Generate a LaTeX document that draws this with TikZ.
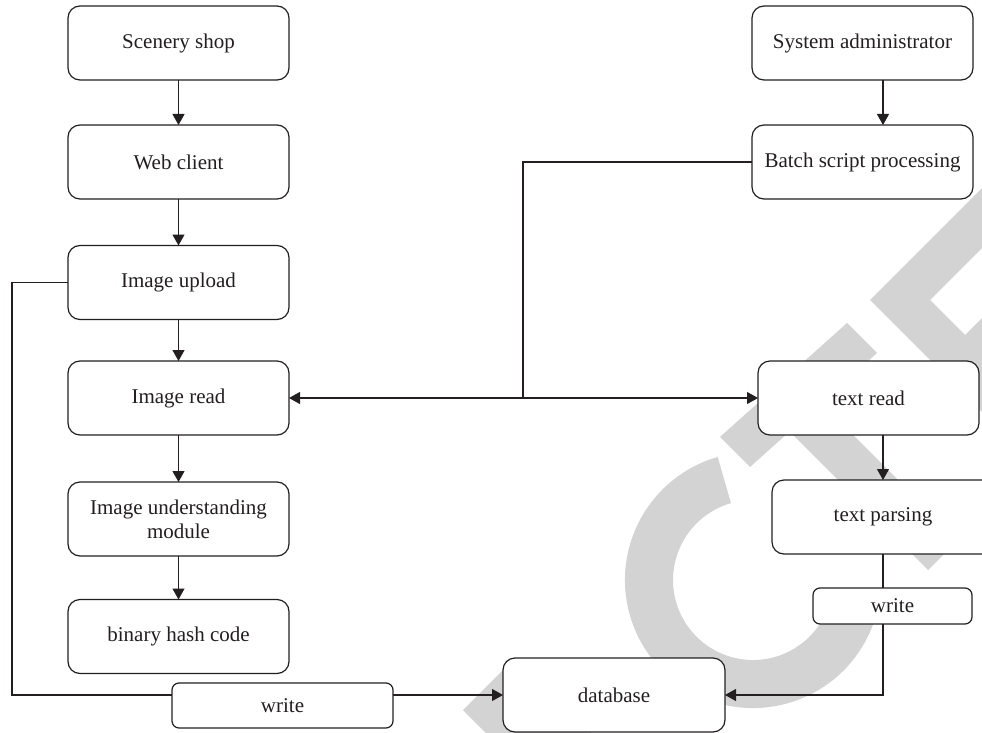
\documentclass[tikz,border=0pt]{standalone}
\usepackage{fontspec}
\setmainfont{Liberation Serif}
\usetikzlibrary{arrows.meta}
\definecolor{wm}{RGB}{211,211,211}
\definecolor{ink}{RGB}{35,31,32}
\begin{document}
\begin{tikzpicture}[x=1pt,y=-1pt,
  box/.style={draw=ink, line width=1.2pt, rounded corners=12pt, fill=white,
    minimum width=221pt, minimum height=74pt, inner sep=0pt, outer sep=0pt,
    align=center, font=\fontsize{21}{24}\selectfont, text=ink},
  smallbox/.style={box, rounded corners=7pt},
  conn/.style={draw=ink, line width=1.1pt},
  arr/.style={conn, -{Triangle[length=11pt,width=12pt]}}]
\clip (0,0) rectangle (982,733);
\fill[white] (0,0) rectangle (982,733);
% watermark
\fill[wm] (717.7,457) arc[start angle=-106, end angle=-350, radius=128]
  -- (831.8,593.9) arc[start angle=-350, end angle=-106, radius=80] -- cycle;
\fill[wm] (720,437) -- (847,323) -- (877,353) -- (750,467) -- cycle;
\fill[wm] (779,421) -- (809,391) -- (958,540) -- (928,570) -- cycle;
\fill[wm] (1070,100) -- (870,300) -- (1100,530) -- (1200,430) -- (1100,200)
  -- (965,335) -- (930,300) -- (1130,100) -- cycle;
\fill[wm] (463,710) -- (510,663) -- (600,740) -- (520,767) -- cycle;
% left column
\node[box] (s1) at (178.5,43) {Scenery shop};
\node[box] (s2) at (178.5,162) {Web client};
\node[box] (up) at (178.5,282.5) {Image upload};
\node[box] (ir) at (178.5,398) {Image read};
\node[box] (iu) at (178.5,519) {Image understanding\\module};
\node[box] (hc) at (178.5,636.5) {binary hash code};
\node[smallbox, minimum height=45pt] (wl) at (282.5,705.5) {write};
% right column
\node[box] (sa) at (862.5,43) {System administrator};
\node[box] (bs) at (862.5,162) {Batch script processing};
\node[box] (tr) at (868.5,398) {text read};
\node[box, minimum width=222pt] (tp) at (883,517) {text parsing};
\node[smallbox, minimum width=159pt, minimum height=36pt] (wr) at (892.5,606) {write};
\node[box, minimum width=222pt] (db) at (614,695) {database};
% connectors
\draw[arr] (s1) -- (s2);
\draw[arr] (s2) -- (up);
\draw[arr] (up) -- (ir);
\draw[arr] (ir) -- (iu);
\draw[arr] (iu) -- (hc);
\coordinate (xr) at (883,0);
\draw[arr] (sa.south -| xr) -- (bs.north -| xr);
\draw[arr] (tr.south -| xr) -- (tp.north -| xr);
\draw[conn] (tp.south -| xr) -- (wr.north -| xr);
\draw[arr] (wr.south -| xr) |- (db.east);
\coordinate (j) at (523,398);
\draw[conn] (bs.west) -| (j);
\draw[arr] (j) -- (ir.east);
\draw[arr] (j) -- (tr.west);
\coordinate (lc) at (12,695);
\draw[conn] (up.west) -| (lc) -- (wl.west |- lc);
\draw[arr] (wl.east |- lc) -- (db.west);
\end{tikzpicture}
\end{document}
